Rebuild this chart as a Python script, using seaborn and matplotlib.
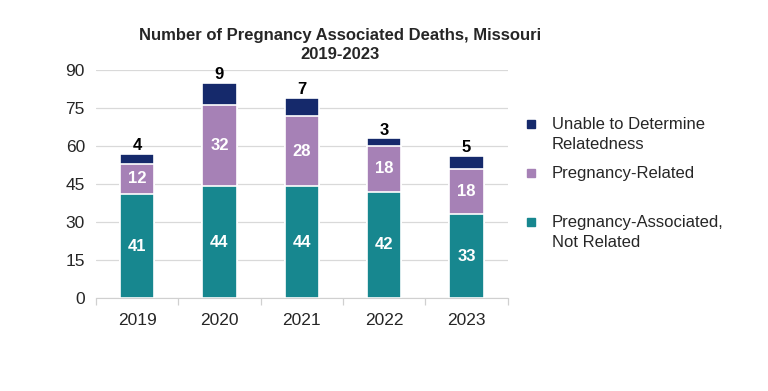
import matplotlib
matplotlib.use("Agg")
import matplotlib.pyplot as plt
import seaborn as sns
import pandas as pd
from matplotlib.patches import Rectangle

# Data
years = ["2019", "2020", "2021", "2022", "2023"]
not_related = [41, 44, 44, 42, 33]
related = [12, 32, 28, 18, 18]
undetermined = [4, 9, 7, 3, 5]
legend_labels = ["Unable to Determine\nRelatedness", "Pregnancy-Related",
                 "Pregnancy-Associated,\nNot Related"]

c_teal = "#17878f"
c_purple = "#a681b6"
c_navy = "#15296b"

df = pd.DataFrame({"Year": years, "NotRelated": not_related,
                   "Related": related, "Undetermined": undetermined})
df["Mid"] = df["NotRelated"] + df["Related"]
df["Total"] = df["Mid"] + df["Undetermined"]

sns.set_style("white")
plt.rcParams["font.family"] = ["Liberation Sans", "DejaVu Sans"]

W, H = 768, 391
fig = plt.figure(figsize=(W / 100, H / 100), dpi=100)
ax = fig.add_axes([0.125, 0.238, 0.536, 0.583])

# stacked bars drawn back to front
for col, color in [("Total", c_navy), ("Mid", c_purple), ("NotRelated", c_teal)]:
    sns.barplot(data=df, x="Year", y=col, color=color, width=0.42,
                edgecolor="white", linewidth=1.2, ax=ax, saturation=1)

# value labels
for i in range(len(years)):
    ax.text(i, not_related[i] / 2, str(not_related[i]), ha="center", va="center",
            color="white", fontsize=12, fontweight="bold")
    ax.text(i, not_related[i] + related[i] / 2, str(related[i]), ha="center",
            va="center", color="white", fontsize=12, fontweight="bold")
    ax.text(i, df["Total"][i] + 0.3, str(undetermined[i]), ha="center",
            va="bottom", color="black", fontsize=12, fontweight="bold")

ax.set_ylim(0, 90)
ax.set_yticks(range(0, 91, 15))
ax.set_xlim(-0.5, 4.5)
ax.yaxis.grid(True, color="#d9d9d9", linewidth=0.9)
ax.set_axisbelow(True)
for s in ["top", "right", "left"]:
    ax.spines[s].set_visible(False)
ax.spines["bottom"].set_color("#d0d0d0")
ax.set_xlabel("")
ax.set_ylabel("")
ax.tick_params(axis="y", labelsize=12.5, length=0, pad=8)
ax.tick_params(axis="x", labelsize=12.5, length=0, pad=11)
# small tick marks between categories
ax.set_xticks([-0.5, 0.5, 1.5, 2.5, 3.5, 4.5], minor=True)
ax.tick_params(axis="x", which="minor", bottom=True, length=5, width=0.9,
               color="#d0d0d0")

ax.set_title("Number of Pregnancy Associated Deaths, Missouri\n2019-2023",
             fontsize=12, fontweight="bold", pad=8, linespacing=1.3, x=0.592)

# legend drawn by hand so the markers line up with the first text line
colors = [c_navy, c_purple, c_teal]
for k, (lab, col) in enumerate(zip(legend_labels, colors)):
    yc = 124 + 49 * k
    fig.patches.append(Rectangle(((527) / W, 1 - (yc + 4) / H), 8 / W, 8 / H,
                                 transform=fig.transFigure, color=col))
    fig.text(552 / W, 1 - (yc - 7) / H, lab, ha="left", va="top",
             fontsize=12, linespacing=1.4)

fig.savefig("out.png", dpi=100)
